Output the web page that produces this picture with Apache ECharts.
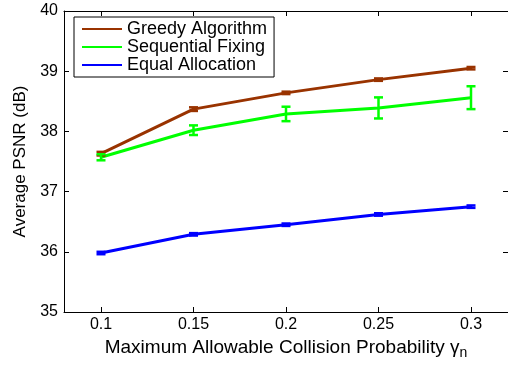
<!DOCTYPE html>
<html><head><meta charset="utf-8">
<script src="https://cdn.jsdelivr.net/npm/echarts@6/dist/echarts.min.js"></script>
<style>html,body{margin:0;padding:0;background:#fff;overflow:hidden}#c{width:508px;height:365px}</style>
</head><body><div id="c"></div>
<script>
const xValues = [0.1, 0.15, 0.2, 0.25, 0.3];
const xTicks = [0.1, 0.15, 0.2, 0.25, 0.3];
const seriesNames = ['Greedy Algorithm', 'Sequential Fixing', 'Equal Allocation'];
const greedy = [37.63, 38.37, 38.64, 38.86, 39.05];
const greedyErr = [0.03, 0.03, 0.02, 0.02, 0.02];
const sequential = [37.57, 38.02, 38.29, 38.39, 38.56];
const sequentialErr = [0.05, 0.08, 0.12, 0.175, 0.19];
const equal = [35.98, 36.29, 36.45, 36.62, 36.75];
const equalErr = [0.02, 0.02, 0.02, 0.02, 0.02];
const colors = ['#993300', '#00ff00', '#0000ff'];

const font = 'Liberation Sans, Arial, Helvetica, sans-serif';
const chart = echarts.init(document.getElementById('c'));

function pairs(v){ return xValues.map((x,i)=>[x, v[i]]); }
function errs(v,e){ return xValues.map((x,i)=>[x, v[i]-e[i], v[i]+e[i]]); }
function errSeries(v,e,color){
  return {
    type:'custom', silent:true, z:3,
    data: errs(v,e),
    renderItem: function(params, api){
      const x = api.value(0);
      const lo = api.coord([x, api.value(1)]);
      const hi = api.coord([x, api.value(2)]);
      const w = 4.5;
      const st = {stroke: color, lineWidth: 2.5};
      return {type:'group', children:[
        {type:'line', shape:{x1:lo[0], y1:lo[1], x2:hi[0], y2:hi[1]}, style:st},
        {type:'line', shape:{x1:lo[0]-w, y1:lo[1], x2:lo[0]+w, y2:lo[1]}, style:st},
        {type:'line', shape:{x1:hi[0]-w, y1:hi[1], x2:hi[0]+w, y2:hi[1]}, style:st}
      ]};
    }
  };
}
const vals = [greedy, sequential, equal];
const evs = [greedyErr, sequentialErr, equalErr];
const series = [];
vals.forEach((v,i)=>{
  series.push({name: seriesNames[i], type:'line', data: pairs(v), symbol:'none',
    lineStyle:{color: colors[i], width:3}, itemStyle:{color: colors[i]}, z:2});
});
vals.forEach((v,i)=>{ series.push(errSeries(v, evs[i], colors[i])); });

const axisLine = {show:true, lineStyle:{color:'#000', width:1}};
const tick = {show:true, inside:true, length:5, lineStyle:{color:'#000'}};
chart.setOption({
  animation:false,
  grid:{left:64, right:-1, top:11, bottom:48},
  legend:{
    data: seriesNames, orient:'vertical', left:74, top:17,
    backgroundColor:'#fff', borderColor:'#000', borderWidth:1,
    padding:[3,7,3,8], itemGap:0, itemWidth:40, itemHeight:2, icon:'rect',
    textStyle:{fontFamily:font, fontSize:18, lineHeight:18, color:'#000', padding:[0,0,0,0]}
  },
  xAxis:[{
    type:'value', min:0.08, max:0.32, position:'bottom',
    axisLine: axisLine, splitLine:{show:false},
    axisTick: Object.assign({customValues: xTicks}, tick),
    axisLabel:{customValues: xTicks, fontFamily:font, fontSize:16, color:'#000', margin:5, formatter: v=>String(v)},
    name:'Maximum Allowable Collision Probability {g|γ}{s|n}', nameLocation:'middle', nameGap:24,
    nameTextStyle:{fontFamily:font, fontSize:19, color:'#000', rich:{g:{fontFamily:font,fontSize:19,color:'#000'}, s:{fontFamily:font,fontSize:14,color:'#000',verticalAlign:'bottom', padding:[10,0,0,0]}}}
  },{
    type:'value', min:0.08, max:0.32, position:'top',
    axisLine: axisLine, splitLine:{show:false},
    axisTick: Object.assign({customValues: xTicks}, tick),
    axisLabel:{show:false}
  }],
  yAxis:[{
    type:'value', min:35, max:40, interval:1, position:'left',
    axisLine: axisLine, splitLine:{show:false}, axisTick: tick,
    axisLabel:{fontFamily:font, fontSize:16, color:'#000', margin:6},
    name:'Average PSNR (dB)', nameLocation:'middle', nameGap:33, nameRotate:90,
    nameTextStyle:{fontFamily:font, fontSize:17, color:'#000'}
  },{
    type:'value', min:35, max:40, interval:1, position:'right',
    axisLine: axisLine, splitLine:{show:false}, axisTick: tick,
    axisLabel:{show:false}
  }],
  series: series
});
</script></body></html>
